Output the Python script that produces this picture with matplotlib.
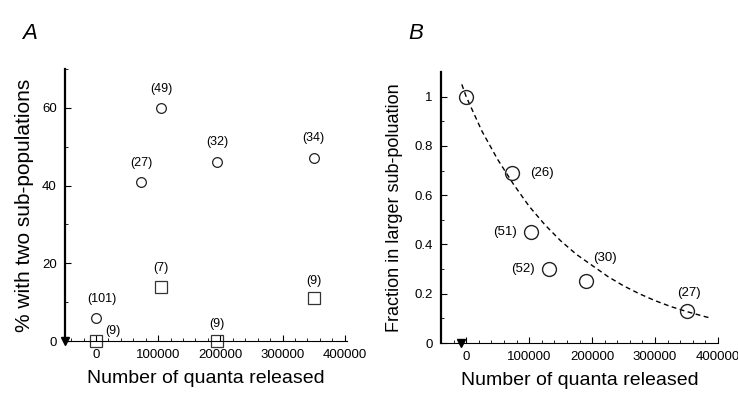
import matplotlib.pyplot as plt

plt.rcParams['font.family'] = ['Liberation Sans', 'DejaVu Sans']

# panel A: % of cells with two sub-populations
a_circ_x = [0, 73000, 105000, 195000, 350000]
a_circ_y = [6, 41, 60, 46, 47]
a_circ_n = ['(101)', '(27)', '(49)', '(32)', '(34)']
a_sq_x = [0, 105000, 195000, 350000]
a_sq_y = [0, 14, 0, 11]
a_sq_n = ['(9)', '(7)', '(9)', '(9)']

# panel B: fraction in larger sub-population
b_x = [0, 72000, 103000, 132000, 190000, 350000]
b_y = [1.0, 0.69, 0.45, 0.30, 0.25, 0.13]
b_n = ['', '(26)', '(51)', '(52)', '(30)', '(27)']
# dashed fit curve
fit_x = [-7000, 0, 25000, 50000, 75000, 100000, 125000, 150000, 175000, 200000,
         225000, 250000, 275000, 300000, 325000, 350000, 375000, 390000]
fit_y = [1.05, 1.0, 0.86, 0.745, 0.645, 0.555, 0.48, 0.415, 0.36, 0.315,
         0.27, 0.232, 0.2, 0.172, 0.148, 0.128, 0.11, 0.10]

x_ticks = [0, 100000, 200000, 300000, 400000]
x_ticklabels = ['0', '100000', '200000', '300000', '400000']
a_yticks = [0, 20, 40, 60]
b_yticks = [0, 0.2, 0.4, 0.6, 0.8, 1.0]
b_yticklabels = ['0', '0.2', '0.4', '0.6', '0.8', '1']

fig = plt.figure(figsize=(7.38, 3.95), dpi=100)
axA = fig.add_axes([0.0881, 0.1367, 0.382, 0.6886])
axB = fig.add_axes([0.5976, 0.1316, 0.3753, 0.686])


def style(ax, xlim, ylim, yminor):
    ax.set_xlim(*xlim)
    ax.set_ylim(*ylim)
    for s in ['top', 'right']:
        ax.spines[s].set_visible(False)
    ax.spines['left'].set_linewidth(1.6)
    ax.spines['bottom'].set_linewidth(0.8)
    ax.set_xticks(x_ticks)
    ax.set_xticklabels(x_ticklabels)
    ax.set_xticks(list(range(-40000, 400001, 20000)), minor=True)
    ax.set_yticks(yminor, minor=True)
    ax.tick_params(which='major', direction='in', length=4, width=0.8,
                   labelsize=9.5, pad=6)
    ax.tick_params(which='minor', direction='in', length=2, width=0.6)
    ax.set_xlabel('Number of quanta released', fontsize=14, labelpad=6)
    # arrow head at bottom of y axis
    ax.plot([xlim[0]], [ylim[0]], marker='v', color='black', ms=6,
            clip_on=False, zorder=5)


style(axA, (-49800, 403500), (0, 70), [10, 30, 50, 70])
axA.set_yticks(a_yticks)
axA.plot(a_circ_x, a_circ_y, 'o', mfc='none', mec='#222222', ms=7, mew=0.9,
         clip_on=False)
axA.plot(a_sq_x, a_sq_y, 's', mfc='none', mec='#333333', ms=8, mew=0.9,
         clip_on=False)
a_circ_off = [(4, 9), (0, 9), (0, 9), (0, 10), (0, 10)]
for x, y, t, o in zip(a_circ_x, a_circ_y, a_circ_n, a_circ_off):
    axA.annotate(t, (x, y), xytext=o, textcoords='offset points',
                 ha='center', va='bottom', fontsize=9)
a_sq_off = [(12, 3), (0, 9), (0, 8), (0, 8)]
for x, y, t, o in zip(a_sq_x, a_sq_y, a_sq_n, a_sq_off):
    axA.annotate(t, (x, y), xytext=o, textcoords='offset points',
                 ha='center', va='bottom', fontsize=9)
axA.set_ylabel('% with two sub-populations', fontsize=15, labelpad=6)

style(axB, (-8700, 391000), (0, 1.1), [0.1, 0.3, 0.5, 0.7, 0.9])
axB.set_yticks(b_yticks)
axB.set_yticklabels(b_yticklabels)
axB.plot(fit_x, fit_y, '--', color='black', lw=1, dashes=(3.5, 2.5))
axB.plot(b_x, b_y, 'o', mfc='none', mec='#222222', ms=10, mew=1.0,
         clip_on=False)
b_off = [(0, 0), (22, 0), (-19, 0), (-19, 0), (14, 17), (2, 13)]
for x, y, t, o in zip(b_x, b_y, b_n, b_off):
    if t:
        axB.annotate(t, (x, y), xytext=o, textcoords='offset points',
                     ha='center', va='center', fontsize=9.5)
axB.set_ylabel('Fraction in larger sub-poluation', fontsize=13, labelpad=8)

fig.text(0.04, 0.915, 'A', fontsize=16, style='italic', ha='center', va='center')
fig.text(0.564, 0.915, 'B', fontsize=16, style='italic', ha='center', va='center')

fig.savefig('out.png', dpi=100)
